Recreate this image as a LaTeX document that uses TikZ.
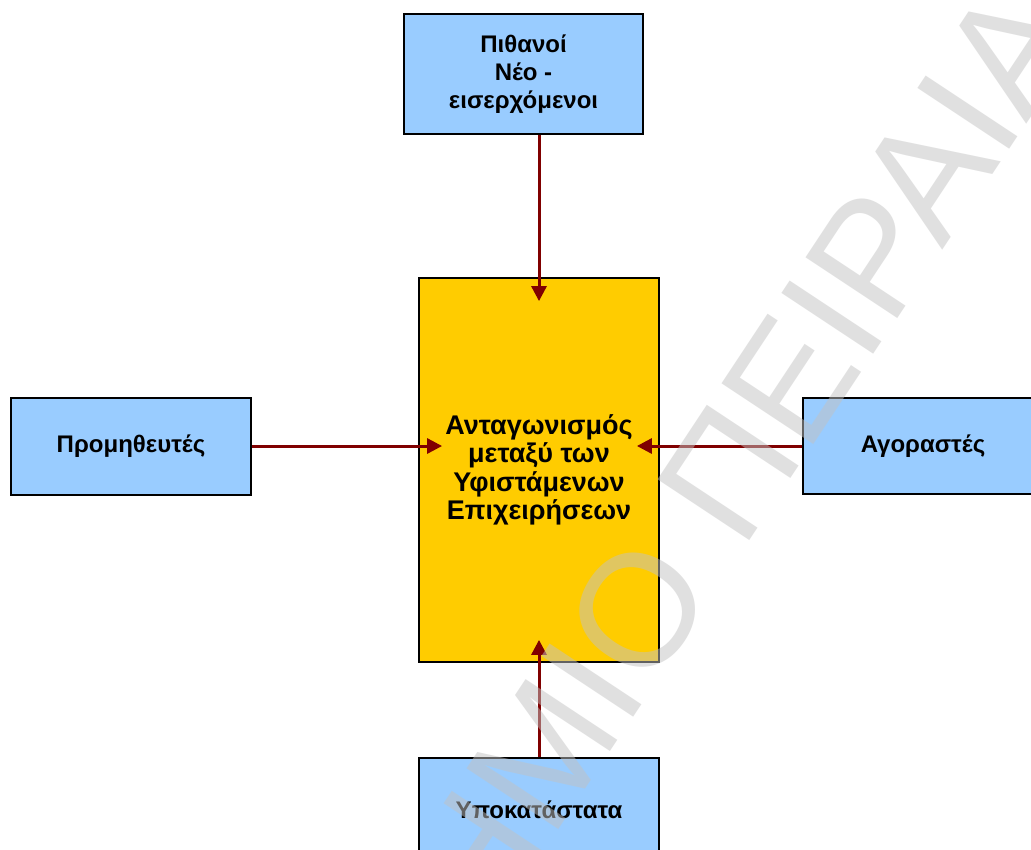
\documentclass[tikz,border=0pt]{standalone}
\usepackage{fontspec}
\setmainfont{Liberation Sans}
\usetikzlibrary{arrows.meta,calc}
\definecolor{boxblue}{HTML}{99CCFF}
\definecolor{boxyellow}{HTML}{FFCC00}
\definecolor{arrowred}{HTML}{800000}
\definecolor{wmgray}{gray}{0.76}
\begin{document}
\begin{tikzpicture}[x=1pt,y=-1pt,
  forcebox/.style={draw=black, line width=1.8pt, fill=boxblue,
    font=\bfseries\fontsize{24}{28}\selectfont, align=center,
    minimum width=240pt, inner sep=0pt},
  rivalbox/.style={forcebox, fill=boxyellow,
    font=\bfseries\fontsize{27}{28.3}\selectfont},
  arr/.style={draw=arrowred, line width=3pt, -{Triangle[length=15pt,width=15pt]}},
  watermark/.style={rotate=56.5, anchor=base east, inner sep=0pt,
    text=wmgray, text opacity=0.5, font=\fontsize{160}{160}\selectfont}]
\clip (0,0) rectangle (1031,849);
\fill[white] (0,0) rectangle (1031,849);
\node[rivalbox, minimum height=384pt] (c) at (539,470)
  {Ανταγωνισμός\\μεταξύ των\\Υφιστάμενων\\Επιχειρήσεων};
\node[forcebox, minimum width=239pt, minimum height=120pt] (top) at (523.5,74)
  {Πιθανοί\\Νέο -\\εισερχόμενοι};
\node[forcebox, minimum height=97pt] (left) at (131,446.5) {Προμηθευτές};
\node[forcebox, minimum height=96pt] (right) at (923,446) {Αγοραστές};
\node[forcebox, minimum height=104pt] (bot) at (539,810) {Υποκατάστατα};
\draw[arr] (c.north |- top.south) -- ($(c.north)+(0,24)$);
\draw[arr] (left.east |- 0,446) -- ($(c.west |- 0,446)+(24,0)$);
\draw[arr] (right.west |- 0,446) -- ($(c.east |- 0,446)+(-23,0)$);
\draw[arr] (c.south |- bot.north) -- ($(c.south)+(0,-23)$);
\node[watermark] (wm) at (1085,35) {ΠΑΝΕΠΙΣΤΗΜΙΟ ΠΕΙΡΑΙΑ};
\end{tikzpicture}
\end{document}
